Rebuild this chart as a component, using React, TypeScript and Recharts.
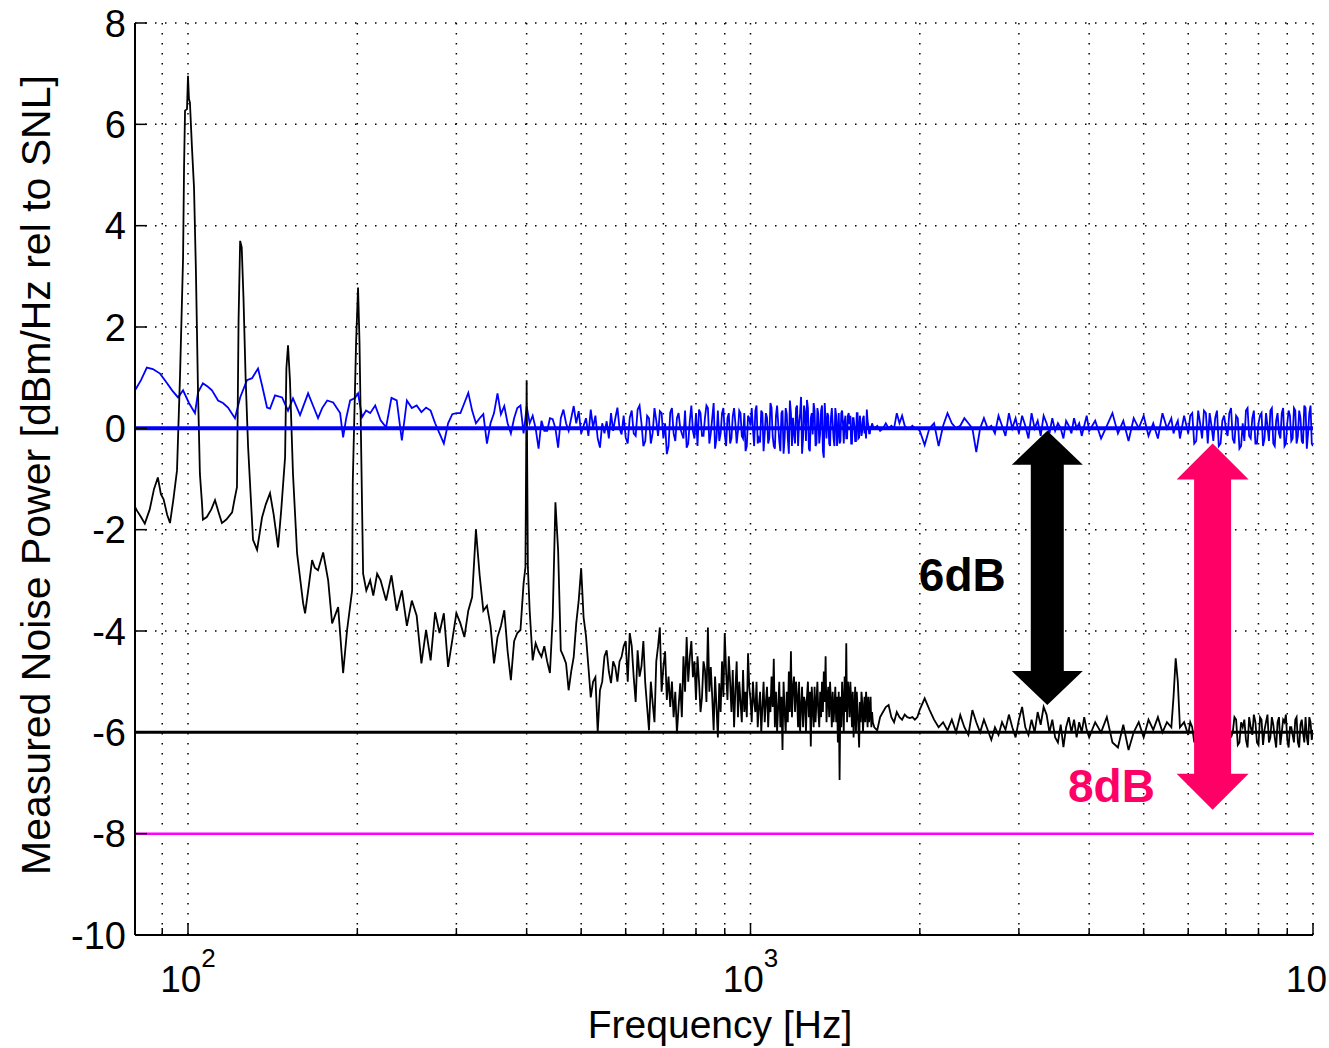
import { CartesianGrid, Line, LineChart, ReferenceDot, ReferenceLine, XAxis, YAxis } from 'recharts'

const FONT = '"Liberation Sans", Arial, Helvetica, sans-serif'

// axes
const decades = [100, 1000, 10000]
const xTicks = [90, 100, 200, 300, 400, 500, 600, 700, 800, 900, 1000, 2000, 3000, 4000, 5000, 6000, 7000, 8000, 9000, 10000]
const yTicks = [-10, -8, -6, -4, -2, 0, 2, 4, 6, 8]

// below ~220 Hz the traces are read point by point (harmonic peaks)
const lowBlackHz = [
  80.5, 81.1, 82.5, 83.8, 85.5, 87.0, 88.4, 89.5, 90.5, 91.8,
  92.9, 94.2, 95.6, 96.8, 98.0, 98.4, 98.8, 99.6, 100.0, 100.4,
  100.8, 101.6, 102.5, 103.3, 104.2, 105.0, 105.9, 106.3, 108.0, 110.0,
  111.7, 113.3, 114.9, 117.0, 119.8, 121.0, 122.2, 123.0, 123.8, 124.6,
  125.5, 126.6, 127.9, 130.5, 132.7, 135.4, 137.5, 139.9, 142.0, 144.0,
  144.6, 146.5, 148.8, 149.6, 150.6, 151.8, 152.8, 153.7, 156.3, 160.2,
  161.5, 164.0, 166.2, 168.0, 170.3, 173.9, 177.5, 180.4, 184.9, 188.7,
  191.8, 195.8, 196.3, 199.0, 200.6, 201.8, 204.8, 207.5, 210.8, 213.5,
  216.9,
]
const lowBlack = [
  -1.55, -1.62, -1.75, -1.88, -1.6, -1.2, -0.97, -1.3, -1.4, -1.7,
  -1.87, -1.4, -0.83, 1.05, 3.35, 5.15, 6.27, 6.3, 6.96, 6.5,
  6.43, 5.58, 4.75, 3.1, 0.69, -0.9, -1.48, -1.8, -1.75, -1.6,
  -1.42, -1.65, -1.87, -1.8, -1.66, -1.4, -1.16, 2.13, 3.7, 3.57,
  2.58, 1.0, -0.37, -2.2, -2.4, -1.76, -1.5, -1.28, -1.7, -2.2,
  -2.35, -1.6, -0.57, 1.18, 1.64, 0.95, -0.04, -0.9, -2.47, -3.45,
  -3.65, -3.1, -2.6, -2.75, -2.8, -2.45, -3.0, -3.85, -3.53, -4.83,
  -3.98, -3.2, -1.08, 1.7, 2.78, 1.7, -2.87, -3.2, -3.0, -3.3,
  -2.87,
]
const lowBlueHz = [
  80.5, 81.1, 82.5, 84.5, 86.6, 89.2, 91.8, 93.7, 96.0, 98.0,
  100.4, 102.9, 104.2, 106.3, 108.5, 110.3, 113.1, 115.4, 117.8, 121.2,
  123.8, 127.3, 130.0, 133.2, 135.4, 138.2, 139.9, 142.8, 147.0, 150.6,
  153.7, 158.2, 163.5, 166.8, 170.3, 173.2, 176.8, 181.2, 186.4, 188.7,
  191.1, 194.2, 198.1, 200.6, 203.9, 207.3, 210.8, 215.2,
]
const lowBlue = [
  0.75, 0.81, 0.95, 1.2, 1.17, 1.08, 0.89, 0.75, 0.61, 0.75,
  0.5, 0.3, 0.71, 0.89, 0.82, 0.75, 0.55, 0.5, 0.41, 0.2,
  0.61, 0.95, 0.99, 1.18, 0.85, 0.41, 0.39, 0.65, 0.61, 0.35,
  0.59, 0.26, 0.69, 0.45, 0.2, 0.4, 0.55, 0.51, 0.3, -0.18,
  0.2, 0.55, 0.6, 0.69, 0.22, 0.35, 0.3, 0.45,
]

// shared frequency grid above 220 Hz
const gridHz = [
  220, 225, 230, 235, 240, 245, 250, 255, 260, 265,
  270, 275, 280, 285, 290, 295, 300, 305, 310, 315,
  320, 325, 330, 335, 340, 345, 350, 355, 360, 365,
  370, 375, 380, 385, 390, 395, 398, 400, 402, 405,
  410, 415, 420, 425, 430, 435, 440, 445, 450, 455,
  460, 465, 470, 475, 480, 485, 490, 495, 500, 505,
  510, 515, 520, 525, 530, 535, 540, 545, 550, 555,
  560, 565, 570, 575, 580, 585, 590, 595, 600, 610,
  620, 630, 640, 650, 660, 670, 680, 690, 700, 710,
  720, 730, 740, 750, 760, 770, 780, 790, 800, 810,
  820, 830, 840, 850, 860, 870, 880, 890, 900, 910,
  920, 930, 940, 950, 960, 970, 980, 990, 1000, 1010,
  1020, 1030, 1040, 1050, 1060, 1070, 1080, 1090, 1100, 1110,
  1120, 1130, 1140, 1150, 1160, 1170, 1180, 1190, 1200, 1210,
  1220, 1230, 1240, 1250, 1260, 1270, 1280, 1290, 1300, 1310,
  1320, 1330, 1340, 1350, 1360, 1370, 1380, 1390, 1400, 1410,
  1420, 1430, 1440, 1450, 1460, 1470, 1480, 1490, 1500, 1510,
  1520, 1530, 1540, 1550, 1560, 1570, 1580, 1590, 1600, 1610,
  1620, 1630, 1640, 1650, 1660, 1680, 1700, 1720, 1740, 1760,
  1780, 1800, 1820, 1840, 1860, 1880, 1900, 1920, 1940, 1960,
  1980, 2000, 2040, 2080, 2120, 2160, 2200, 2240, 2280, 2320,
  2360, 2400, 2440, 2480, 2520, 2560, 2600, 2640, 2680, 2720,
  2760, 2800, 2840, 2880, 2920, 2960, 3000, 3040, 3080, 3120,
  3160, 3200, 3240, 3280, 3320, 3360, 3400, 3440, 3480, 3520,
  3560, 3600, 3640, 3680, 3720, 3760, 3800, 3840, 3880, 3920,
  3960, 4000, 4100, 4200, 4300, 4400, 4500, 4600, 4700, 4800,
  4900, 5000, 5100, 5200, 5300, 5400, 5500, 5600, 5650, 5700,
  5750, 5800, 5900, 6000, 6100, 6200, 6300, 6400, 6500, 6600,
  6700, 6800, 6900, 7000, 7100, 7200, 7300, 7400, 7500, 7600,
  7700, 7800, 7900, 8000, 8100, 8200, 8300, 8400, 8500, 8600,
  8700, 8800, 8900, 9000, 9100, 9200, 9300, 9400, 9500, 9600,
  9700, 9800, 9900, 10000,
]
const gridBlack = [
  -3.0, -3.4, -2.9, -3.6, -3.2, -3.9, -3.4, -3.7, -4.64, -3.98,
  -4.58, -3.63, -4.04, -3.65, -4.71, -4.18, -3.65, -3.85, -4.12, -3.6,
  -3.33, -2.0, -2.9, -3.6, -3.5, -3.9, -4.64, -4.12, -3.9, -3.59,
  -4.4, -4.97, -4.2, -4.04, -3.98, -3.06, -2.74, 0.95, -2.74, -3.6,
  -4.58, -4.24, -4.4, -4.51, -4.3, -4.6, -4.83, -3.73, -1.46, -2.41,
  -4.38, -4.5, -4.64, -5.17, -4.8, -4.51, -3.85, -3.4, -2.76, -3.73,
  -4.1, -4.7, -5.31, -5.0, -4.91, -6.0, -5.17, -5.0, -4.5, -4.38,
  -4.8, -5.03, -4.6, -4.71, -5.0, -4.6, -4.51, -4.3, -4.2, -4.04,
  -4.91, -4.38, -4.7, -5.03, -5.96, -5.42, -4.6, -3.93, -4.71, -5.36,
  -5.5, -5.7, -6.02, -5.03, -4.5, -4.12, -4.51, -4.91, -5.36, -5.0,
  -5.3, -4.77, -3.93, -4.71, -5.96, -5.5, -5.03, -4.6, -4.04, -5.36,
  -5.0, -4.77, -5.17, -5.7, -5.4, -4.77, -5.2, -4.44, -5.36, -5.0,
  -5.6, -5.9, -5.2, -5.5, -5.8, -5.1, -5.3, -4.9, -4.55, -5.2,
  -5.5, -5.9, -6.35, -5.6, -5.2, -4.8, -4.4, -5.1, -5.6, -5.3,
  -5.0, -5.5, -5.9, -5.4, -5.3, -5.7, -6.28, -5.5, -5.1, -5.4,
  -5.6, -5.2, -5.0, -4.8, -4.5, -5.3, -5.7, -5.4, -5.2, -5.5,
  -5.8, -6.2, -6.94, -5.9, -5.4, -4.9, -4.24, -5.0, -5.7, -5.4,
  -5.2, -5.6, -6.0, -5.5, -6.3, -5.8, -5.4, -5.6, -5.8, -5.5,
  -5.3, -5.6, -5.9, -5.8, -5.9, -5.96, -5.7, -5.6, -5.5, -5.46,
  -5.7, -5.8, -5.6, -5.7, -5.75, -5.65, -5.7, -5.72, -5.7, -5.75,
  -5.7, -5.55, -5.33, -5.55, -5.75, -5.9, -5.8, -5.96, -5.75, -6.0,
  -5.66, -5.9, -6.05, -5.56, -5.8, -6.0, -5.75, -5.95, -6.15, -5.9,
  -6.05, -5.8, -5.95, -5.65, -5.9, -6.1, -5.75, -5.5, -5.9, -6.05,
  -5.75, -6.0, -5.6, -5.85, -5.5, -5.65, -6.0, -5.75, -6.1, -6.2,
  -5.85, -6.29, -5.9, -5.7, -6.0, -5.75, -6.1, -5.8, -6.0, -5.7,
  -5.95, -6.1, -5.8, -6.0, -5.7, -6.2, -6.3, -5.85, -6.35, -6.0,
  -5.8, -6.1, -5.75, -5.95, -5.7, -6.0, -5.8, -5.9, -5.3, -4.54,
  -5.0, -5.9, -5.8, -6.05, -5.9, -6.1, -5.8, -6.0, -5.9, -6.1,
  -5.85, -6.0, -5.9, -6.1, -5.8, -6.0, -5.75, -6.2, -5.9, -6.15,
  -5.7, -6.05, -5.8, -6.25, -5.75, -5.95, -5.65, -6.1, -5.85, -6.3,
  -5.7, -6.0, -5.8, -6.15, -5.9, -6.05, -5.75, -6.2, -5.85, -6.0,
  -5.7, -6.25, -5.8, -5.95,
]
const gridBlue = [
  0.16, 0.02, 0.6, 0.55, -0.24, 0.55, 0.4, 0.45, 0.32, 0.41,
  0.35, 0.1, -0.1, -0.3, 0.1, 0.28, 0.3, 0.3, 0.5, 0.7,
  0.35, 0.1, 0.2, 0.28, -0.3, 0.1, 0.3, 0.69, 0.28, 0.44,
  0.1, -0.1, 0.2, 0.4, 0.45, -0.1, 0.2, 0.44, 0.3, 0.1,
  0.25, 0.0, -0.4, 0.15, -0.05, -0.05, 0.2, 0.18, 0.0, -0.38,
  0.2, 0.37, 0.1, -0.05, 0.2, 0.44, 0.1, 0.34, -0.1, 0.05,
  0.2, -0.15, 0.37, 0.01, 0.25, -0.2, -0.38, 0.1, -0.1, 0.14,
  -0.2, 0.3, -0.05, 0.2, 0.41, 0.0, -0.12, 0.25, -0.18, 0.21,
  -0.1, 0.37, 0.1, -0.25, 0.2, -0.09, 0.15, 0.34, -0.2, -0.51,
  0.31, -0.1, 0.2, 0.01, -0.2, -0.38, 0.15, -0.05, 0.3, 0.37,
  -0.15, 0.21, 0.4, -0.1, 0.5, -0.2, -0.25, 0.3, -0.12, 0.2,
  -0.3, 0.24, 0.1, -0.05, 0.3, -0.2, -0.45, 0.25, 0.05, 0.01,
  0.35, -0.3, -0.28, 0.3, -0.1, 0.21, -0.2, 0.41, -0.35, 0.25,
  0.1, -0.45, 0.35, -0.2, 0.28, -0.5, 0.3, 0.21, -0.3, 0.45,
  0.1, 0.62, -0.2, 0.3, 0.56, -0.4, 0.2, -0.12, 0.35, -0.3,
  0.28, -0.1, 0.45, -0.58, 0.15, 0.3, -0.3, 0.21, 0.1, -0.35,
  0.25, -0.05, -0.3, 0.3, 0.1, 0.14, -0.2, 0.25, 0.08, -0.3,
  0.2, 0.05, -0.25, 0.3, -0.18, 0.1, -0.05, 0.25, 0.0, 0.37,
  0.05, -0.1, 0.0, 0.05, 0.0, 0.05, -0.05, 0.0, 0.1, 0.0,
  0.05, 0.0, 0.3, 0.1, 0.25, 0.05, 0.0, 0.0, 0.05, 0.0,
  0.0, -0.05, -0.33, 0.0, 0.1, -0.35, 0.05, 0.3, 0.1, 0.0,
  0.05, 0.2, 0.1, 0.0, -0.47, 0.0, 0.2, 0.0, 0.05, -0.1,
  0.25, 0.05, -0.15, 0.3, 0.0, 0.2, -0.1, 0.25, 0.05, -0.2,
  0.3, 0.0, 0.15, -0.15, 0.25, 0.1, -0.1, 0.2, -0.05, 0.1,
  0.0, -0.2, 0.15, 0.05, -0.1, 0.2, 0.0, 0.1, -0.15, 0.05,
  0.25, -0.05, 0.15, -0.2, 0.05, 0.3, -0.1, 0.15, -0.25, 0.2,
  0.0, 0.25, -0.15, 0.1, -0.2, 0.3, 0.0, 0.2, -0.1, 0.05,
  0.15, -0.2, 0.25, -0.1, 0.3, -0.25, 0.1, 0.35, -0.3, 0.05,
  0.2, -0.35, 0.15, 0.0, 0.3, -0.2, 0.25, -0.4, 0.1, 0.35,
  -0.15, 0.2, -0.3, 0.1, 0.3, -0.2, 0.05, 0.35, -0.3, 0.15,
  -0.1, 0.3, -0.35, 0.1, 0.25, -0.2, 0.35, -0.15, 0.2, -0.3,
  0.4, -0.1, 0.45, -0.35,
]

// extra in-between bins where the measured noise is densest
const denseHz = [
  605, 615, 625, 635, 645, 655, 665, 675, 685, 695,
  705, 715, 725, 735, 745, 755, 765, 775, 785, 795,
  805, 815, 825, 835, 845, 855, 865, 875, 885, 895,
  905, 915, 925, 935, 945, 955, 965, 975, 985, 995,
  1005, 1015, 1025, 1035, 1045, 1055, 1065, 1075, 1085, 1095,
  1105, 1115, 1125, 1135, 1145, 1155, 1165, 1175, 1185, 1195,
  1205, 1215, 1225, 1235, 1245, 1255, 1265, 1275, 1285, 1295,
  1305, 1315, 1325, 1335, 1345, 1355, 1365, 1375, 1385, 1395,
  1405, 1415, 1425, 1435, 1445, 1455, 1465, 1475, 1485, 1495,
  1505, 1515, 1525, 1535, 1545, 1555, 1565, 1575, 1585, 1595,
  1605, 1615, 1625, 1635, 1645, 6050, 6150, 6250, 6350, 6450,
  6550, 6650, 6750, 6850, 6950, 7050, 7150, 7250, 7350, 7450,
  7550, 7650, 7750, 7850, 7950, 8050, 8150, 8250, 8350, 8450,
  8550, 8650, 8750, 8850, 8950, 9050, 9150, 9250, 9350, 9450,
  9550, 9650, 9750, 9850, 9950,
]
const denseBlack = [
  -5.0, -4.3, -5.4, -4.9, -4.2, -5.5, -5.0, -5.8, -4.3, -5.2,
  -4.4, -4.9, -5.0, -5.2, -5.5, -5.7, -5.2, -5.0, -4.2, -4.6,
  -4.5, -5.6, -4.6, -5.4, -5.2, -5.3, -4.9, -6.1, -5.6, -5.3,
  -4.8, -4.5, -5.6, -5.9, -4.6, -5.0, -5.8, -5.6, -5.7, -5.1,
  -5.8, -5.4, -5.0, -5.5, -6.0, -5.0, -5.4, -5.9, -5.6, -5.5,
  -5.9, -6.0, -5.0, -5.3, -5.0, -6.0, -5.8, -5.6, -5.7, -4.9,
  -5.0, -5.9, -6.0, -5.1, -5.3, -6.0, -5.0, -5.2, -5.1, -5.9,
  -5.8, -5.0, -5.9, -5.7, -5.6, -5.4, -5.8, -5.1, -5.0, -5.9,
  -5.8, -5.1, -5.3, -5.2, -5.3, -5.0, -6.0, -5.6, -5.8, -5.2,
  -5.0, -5.9, -6.1, -5.1, -5.2, -5.9, -5.4, -5.2, -6.0, -5.3,
  -5.2, -5.9, -5.8, -5.3, -5.6, -5.8, -6.2, -5.7, -6.15, -5.75,
  -6.25, -5.7, -6.15, -5.75, -6.3, -5.8, -6.1, -5.7, -6.25, -5.8,
  -5.75, -6.3, -5.9, -5.65, -6.2, -5.7, -6.25, -5.8, -6.2, -5.7,
  -6.1, -5.8, -6.25, -5.75, -5.65, -6.3, -5.9, -6.2, -5.7, -6.3,
  -5.75, -6.2, -6.1, -5.7, -6.15,
]
const denseBlue = [
  -0.3, 0.35, -0.15, 0.45, -0.35, 0.25, -0.3, 0.4, -0.15, 0.3,
  0.1, -0.35, 0.4, -0.25, 0.3, -0.1, 0.35, -0.3, 0.45, -0.2,
  -0.35, 0.3, -0.15, 0.45, -0.3, 0.2, -0.4, 0.35, -0.1, 0.4,
  -0.35, 0.3, -0.2, 0.4, -0.3, 0.35, -0.15, 0.3, -0.35, 0.2,
  0.4, -0.35, 0.45, -0.2, 0.35, -0.45, 0.3, -0.3, 0.5, -0.15,
  -0.4, 0.45, -0.25, 0.3, -0.5, 0.4, -0.2, 0.55, -0.35, -0.1,
  0.4, -0.35, 0.3, -0.5, 0.45, -0.25, 0.4, -0.45, 0.3, 0.5,
  -0.35, 0.4, -0.3, 0.35, -0.45, 0.5, -0.2, 0.25, -0.35, 0.4,
  -0.2, 0.4, -0.35, 0.3, -0.25, 0.35, -0.3, 0.25, -0.2, 0.3,
  0.25, -0.3, 0.2, -0.25, 0.3, -0.2, 0.25, -0.15, 0.2, -0.1,
  -0.2, 0.15, -0.1, 0.05, 0.1, 0.25, -0.3, 0.35, -0.2, 0.3,
  0.3, -0.25, 0.35, -0.3, 0.25, -0.15, 0.4, -0.3, 0.2, -0.35,
  -0.25, 0.4, -0.2, 0.35, -0.3, 0.25, -0.35, 0.3, -0.25, 0.4,
  -0.35, 0.3, -0.2, 0.4, -0.3, 0.35, -0.25, 0.4, -0.3, 0.35,
  -0.25, 0.45, -0.4, 0.3, -0.3,
]

// flat reference levels (dB)
const levels = [0, -6, -8]
const levelColors = ['#0000ff', '#000000', '#ff00ff']
const levelWidths = [4, 3, 2.5]

// the two double arrows: frequency, top and bottom value
const arrows = [
  { f: 3370, from: -0.05, to: -5.46 },
  { f: 6630, from: -0.3, to: -7.53 },
]
const notes = [
  { text: '6dB', f: 2843, v: -3.21 },
  { text: '8dB', f: 5236, v: -7.38 },
]
const arrowColors = ['#000000', '#ff0066']

const toPoints = (hz: number[], vals: number[]) =>
  hz.map((f, i) => ({ f, v: vals[i] })).filter((p) => p.v !== undefined)

const byFreq = (a: { f: number }, b: { f: number }) => a.f - b.f

const blackData = [
  ...toPoints(lowBlackHz, lowBlack),
  ...toPoints(gridHz, gridBlack),
  ...toPoints(denseHz, denseBlack),
].sort(byFreq)
const blueData = [
  ...toPoints(lowBlueHz, lowBlue),
  ...toPoints(gridHz, gridBlue),
  ...toPoints(denseHz, denseBlue),
].sort(byFreq)

function BottomTick({ x, y, payload }: any) {
  const major = decades.includes(payload.value)
  const atEdge = payload.value === decades[decades.length - 1]
  return (
    <g>
      <line x1={x} x2={x} y1={y} y2={y - (major ? 12 : 7)} stroke="#000" strokeWidth={1.5} />
      {major && !atEdge && (
        <text x={x} y={y + 57} textAnchor="middle" fontFamily={FONT} fontSize={37} fill="#000">
          10
          <tspan dy={-25} fontSize={26}>{Math.round(Math.log10(payload.value))}</tspan>
        </text>
      )}
      {atEdge && (
        <text x={x + 14} y={y + 57} textAnchor="end" fontFamily={FONT} fontSize={37} fill="#000">
          10
        </text>
      )}
    </g>
  )
}

function TopTick({ x, y, payload }: any) {
  const major = decades.includes(payload.value)
  return <line x1={x} x2={x} y1={y} y2={y + (major ? 12 : 7)} stroke="#000" strokeWidth={1.5} />
}

function LeftTick({ x, y, payload }: any) {
  return (
    <g>
      <line x1={x} x2={x + 12} y1={y} y2={y} stroke="#000" strokeWidth={1.5} />
      <text x={x - 9} y={y} dy="0.36em" textAnchor="end" fontFamily={FONT} fontSize={38} fill="#000">
        {payload.value}
      </text>
    </g>
  )
}

function RightTick({ x, y }: any) {
  return <line x1={x} x2={x - 12} y1={y} y2={y} stroke="#000" strokeWidth={1.5} />
}

function YTitle({ viewBox }: any) {
  const cx = viewBox.x + 36
  const cy = viewBox.y + viewBox.height / 2 - 4
  return (
    <text
      transform={`translate(${cx},${cy}) rotate(-90)`}
      textAnchor="middle"
      dominantBaseline="central"
      fontFamily={FONT}
      fontSize={41}
      fill="#000"
    >
      Measured Noise Power [dBm/Hz rel to SNL]
    </text>
  )
}

function XTitle({ viewBox }: any) {
  return (
    <text x={viewBox.x + viewBox.width / 2 - 4} y={viewBox.y + 103} textAnchor="middle" fontFamily={FONT} fontSize={39} fill="#000">
      Frequency [Hz]
    </text>
  )
}

// vertical double-headed arrow between two data points
const arrowShape = (color: string, shaft: number, headW: number, headH: number) => (props: any) => {
  const { x1, y1, y2 } = props
  const top = Math.min(y1, y2)
  const bot = Math.max(y1, y2)
  const pts = [
    [x1, top],
    [x1 + headW / 2, top + headH],
    [x1 + shaft / 2, top + headH],
    [x1 + shaft / 2, bot - headH],
    [x1 + headW / 2, bot - headH],
    [x1, bot],
    [x1 - headW / 2, bot - headH],
    [x1 - shaft / 2, bot - headH],
    [x1 - shaft / 2, top + headH],
    [x1 - headW / 2, top + headH],
  ]
  return <polygon points={pts.map((p) => p.join(',')).join(' ')} fill={color} />
}

const noteShape = (text: string, color: string) => (props: any) => (
  <text x={props.cx} y={props.cy} textAnchor="end" fontFamily={FONT} fontWeight="bold" fontSize={46} fill={color}>
    {text}
  </text>
)

export default function App() {
  return (
    <div style={{ position: 'absolute', left: 0, top: 0, background: '#fff' }}>
      <LineChart width={1329} height={1048} margin={{ top: 23, right: 16, bottom: 0, left: 0 }}>
        <CartesianGrid stroke="#000" strokeWidth={1.5} strokeDasharray="1.5 8.5" />
        <XAxis
          dataKey="f"
          type="number"
          scale="log"
          domain={[80.5, 10000]}
          allowDataOverflow
          ticks={xTicks}
          interval={0}
          height={113}
          tickSize={0}
          tickMargin={0}
          tickLine={false}
          tick={<BottomTick />}
          axisLine={{ stroke: '#000', strokeWidth: 2 }}
          label={XTitle}
        />
        <XAxis
          xAxisId="top"
          orientation="top"
          dataKey="f"
          type="number"
          scale="log"
          domain={[80.5, 10000]}
          allowDataOverflow
          ticks={xTicks}
          interval={0}
          height={0}
          tickSize={0}
          tickMargin={0}
          tickLine={false}
          tick={<TopTick />}
          axisLine={{ stroke: '#000', strokeWidth: 2 }}
        />
        <YAxis
          type="number"
          domain={[-10, 8]}
          allowDataOverflow
          ticks={yTicks}
          interval={0}
          width={135}
          tickSize={0}
          tickMargin={0}
          tickLine={false}
          tick={<LeftTick />}
          axisLine={{ stroke: '#000', strokeWidth: 2 }}
          label={YTitle}
        />
        <YAxis
          yAxisId="right"
          orientation="right"
          type="number"
          domain={[-10, 8]}
          allowDataOverflow
          ticks={yTicks}
          interval={0}
          width={0}
          tickSize={0}
          tickMargin={0}
          tickLine={false}
          tick={<RightTick />}
          axisLine={{ stroke: '#000', strokeWidth: 2 }}
        />
        <Line data={blueData} dataKey="v" type="linear" stroke="#0000ff" strokeWidth={1.8} dot={false} isAnimationActive={false} />
        <Line data={blackData} dataKey="v" type="linear" stroke="#000000" strokeWidth={1.8} dot={false} isAnimationActive={false} />
        {levels.map((v, i) => (
          <ReferenceLine key={v} y={v} stroke={levelColors[i]} strokeWidth={levelWidths[i]} />
        ))}
        {arrows.map((a, i) => (
          <ReferenceLine
            key={a.f}
            segment={[{ x: a.f, y: a.from }, { x: a.f, y: a.to }]}
            shape={arrowShape(arrowColors[i], i === 0 ? 33 : 37, i === 0 ? 71 : 72, i === 0 ? 34 : 36)}
          />
        ))}
        {notes.map((n, i) => (
          <ReferenceDot key={n.text} x={n.f} y={n.v} r={0} shape={noteShape(n.text, arrowColors[i])} />
        ))}
      </LineChart>
    </div>
  )
}
